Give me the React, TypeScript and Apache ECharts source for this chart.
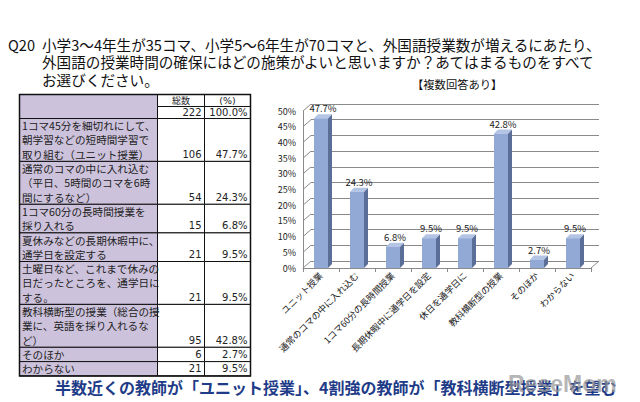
import React, { useEffect, useRef } from 'react';
import * as echarts from 'echarts';

const categories = [
  'ユニット授業',
  '通常のコマの中に入れ込む',
  '1コマ60分の長時間授業',
  '長期休暇中に通学日を設定',
  '休日を通学日に',
  '教科横断型の授業',
  'そのほか',
  'わからない',
];
const percentValues = [47.7, 24.3, 6.8, 9.5, 9.5, 42.8, 2.7, 9.5];
const yTicks = [0, 5, 10, 15, 20, 25, 30, 35, 40, 45, 50];

const tableRowLabels = [
  ['1コマ45分を細切れにして、', '朝学習などの短時間学習で', '取り組む（ユニット授業）'],
  ['通常のコマの中に入れ込む', '（平日、5時間のコマを6時', '間にするなど）'],
  ['1コマ60分の長時間授業を', '採り入れる'],
  ['夏休みなどの長期休暇中に、', '通学日を設定する'],
  ['土曜日など、これまで休みの', '日だったところを、通学日に', 'する。'],
  ['教科横断型の授業（総合の授', '業に、英語を採り入れるな', 'ど）'],
  ['そのほか'],
  ['わからない'],
];
const tableCounts = [106, 54, 15, 21, 21, 95, 6, 21];
const tableHeaders = ['総数', '(%)'];
const totalCount = 222;
const totalPercent = '100.0%';

const titleCode = 'Q20';
const titleLines = [
  '小学3～4年生が35コマ、小学5～6年生が70コマと、外国語授業数が増えるにあたり、',
  '外国語の授業時間の確保にはどの施策がよいと思いますか？あてはまるものをすべて',
  'お選びください。',
];
const noteText = '【複数回答あり】';
const captionText = '半数近くの教師が「ユニット授業」、4割強の教師が「教科横断型授業」を望む';

const JP = '"Noto Sans CJK JP", "Noto Sans", sans-serif';
const NUM = '"DejaVu Sans", sans-serif';

function buildTable() {
  const cols = [19.5, 157.5, 204.5, 250.5];
  const top = 94.5;
  const hh = 12;
  const lh = 14.3;
  const purple = '#cdc2dc';
  const els: any[] = [];
  const txt = (x: number, y: number, text: string, align: string, font: string, size: number) => ({
    type: 'text',
    x,
    y,
    style: {
      text,
      fontFamily: font,
      fontSize: size,
      lineHeight: 12,
      fill: '#222',
      align,
      verticalAlign: 'middle',
    },
  });
  const cell = (x1: number, x2: number, y1: number, y2: number, fill: string) => ({
    type: 'rect',
    shape: { x: x1, y: y1, width: x2 - x1, height: y2 - y1 },
    style: { fill, stroke: '#111', lineWidth: 1 },
  });
  els.push(cell(cols[0], cols[1], top, top + 2 * hh, purple));
  els.push(cell(cols[1], cols[2], top, top + hh, '#fff'));
  els.push(cell(cols[2], cols[3], top, top + hh, '#fff'));
  els.push(cell(cols[1], cols[2], top + hh, top + 2 * hh, '#fff'));
  els.push(cell(cols[2], cols[3], top + hh, top + 2 * hh, '#fff'));
  els.push(txt((cols[1] + cols[2]) / 2, top + hh / 2, tableHeaders[0], 'center', JP, 9));
  els.push(txt((cols[2] + cols[3]) / 2, top + hh / 2, tableHeaders[1], 'center', NUM, 9.5));
  els.push(txt(cols[2] - 3, top + hh * 1.5, String(totalCount), 'right', NUM, 10));
  els.push(txt(cols[3] - 3, top + hh * 1.5, totalPercent, 'right', NUM, 10));
  let y = top + 2 * hh;
  tableRowLabels.forEach((lines, i) => {
    const h = lines.length * lh;
    els.push(cell(cols[0], cols[1], y, y + h, purple));
    els.push(cell(cols[1], cols[2], y, y + h, '#fff'));
    els.push(cell(cols[2], cols[3], y, y + h, '#fff'));
    lines.forEach((l, k) => {
      els.push(txt(cols[0] + 2.5, y + k * lh + lh / 2, l, 'left', JP, 10.6));
    });
    els.push(txt(cols[2] - 3, y + h - lh / 2, String(tableCounts[i]), 'right', NUM, 10));
    els.push(txt(cols[3] - 3, y + h - lh / 2, percentValues[i].toFixed(1) + '%', 'right', NUM, 10));
    y += h;
  });
  els.push({
    type: 'rect',
    shape: { x: cols[0], y: top, width: cols[3] - cols[0], height: y - top },
    style: { fill: 'none', stroke: '#111', lineWidth: 1.5 },
  });
  return els;
}

export default function App() {
  const ref = useRef<HTMLDivElement>(null);
  useEffect(() => {
    document.body.style.margin = '0';
    const chart = echarts.init(ref.current!, null, { renderer: 'svg' });
    const gridStroke = '#8a8a8a';
    const option: any = {
      animation: false,
      backgroundColor: '#ffffff',
      grid: [
        { left: 303, top: 111, width: 288, height: 157 },
        { left: 311, top: 104, width: 288, height: 157 },
      ],
      xAxis: [
        {
          type: 'category',
          gridIndex: 0,
          data: categories,
          axisLine: { show: true, lineStyle: { color: gridStroke } },
          axisTick: { show: true, interval: 0, length: 4, lineStyle: { color: gridStroke } },
          axisLabel: {
            interval: 0,
            rotate: 45,
            fontSize: 9,
            fontFamily: JP,
            color: '#222',
            margin: 6,
          },
        },
        { type: 'category', gridIndex: 1, data: categories, show: false },
      ],
      yAxis: [
        {
          type: 'value',
          gridIndex: 0,
          min: 0,
          max: 50,
          interval: 5,
          axisLine: { show: true, lineStyle: { color: gridStroke } },
          axisTick: { show: false },
          splitLine: { show: false },
          axisLabel: { formatter: '{value}%', fontSize: 9, fontFamily: JP, color: '#222', margin: 7 },
        },
        {
          type: 'value',
          gridIndex: 1,
          min: 0,
          max: 50,
          interval: 5,
          axisLine: { show: false },
          axisTick: { show: false },
          axisLabel: { show: false },
          splitLine: { show: true, lineStyle: { color: gridStroke, width: 1 } },
        },
      ],
      series: [
        {
          type: 'custom',
          xAxisIndex: 0,
          yAxisIndex: 0,
          silent: true,
          data: yTicks.map((v) => [0, v]),
          renderItem: (params: any, api: any) => {
            const v = api.value(1);
            const p = api.coord([0, v]);
            const cs = params.coordSys;
            const children: any[] = [
              {
                type: 'line',
                shape: { x1: cs.x, y1: p[1], x2: cs.x + 8, y2: p[1] - 7 },
                style: { stroke: gridStroke, lineWidth: 1 },
              },
            ];
            if (v === 0) {
              children.push({
                type: 'line',
                shape: { x1: cs.x + cs.width, y1: p[1], x2: cs.x + cs.width + 8, y2: p[1] - 7 },
                style: { stroke: gridStroke, lineWidth: 1 },
              });
            }
            return { type: 'group', children };
          },
        },
        {
          type: 'bar',
          xAxisIndex: 0,
          yAxisIndex: 0,
          data: percentValues,
          barWidth: 14,
          itemStyle: { color: '#92a9d6' },
          label: {
            show: true,
            position: 'top',
            distance: 5,
            offset: [2, 0],
            formatter: (p: any) => p.value.toFixed(1) + '%',
            fontSize: 9.5,
            fontFamily: JP,
            color: '#222',
          },
        },
        {
          type: 'custom',
          xAxisIndex: 0,
          yAxisIndex: 0,
          silent: true,
          data: percentValues.map((v, i) => [i, v]),
          renderItem: (params: any, api: any) => {
            const i = api.value(0);
            const v = api.value(1);
            const t = api.coord([i, v]);
            const b = api.coord([i, 0]);
            const half = 7;
            const dx = 4;
            const dy = 4;
            return {
              type: 'group',
              children: [
                {
                  type: 'polygon',
                  shape: {
                    points: [
                      [t[0] + half, t[1]],
                      [t[0] + half + dx, t[1] - dy],
                      [t[0] + half + dx, b[1] - dy],
                      [t[0] + half, b[1]],
                    ],
                  },
                  style: { fill: '#5b6e98' },
                },
                {
                  type: 'polygon',
                  shape: {
                    points: [
                      [t[0] - half, t[1]],
                      [t[0] + half, t[1]],
                      [t[0] + half + dx, t[1] - dy],
                      [t[0] - half + dx, t[1] - dy],
                    ],
                  },
                  style: { fill: '#b3c4e4' },
                },
              ],
            };
          },
        },
      ],
      graphic: [
        {
          type: 'text',
          x: 8,
          y: 44,
          style: {
            text: titleCode,
            fontFamily: JP,
            fontSize: 14.6,
            lineHeight: 16,
            fill: '#111',
            verticalAlign: 'middle',
          },
        },
        ...titleLines.map((t, k) => ({
          type: 'text',
          x: 42,
          y: 44 + k * 17.5,
          style: {
            text: t,
            fontFamily: JP,
            fontSize: 14.6,
            lineHeight: 16,
            fill: '#111',
            verticalAlign: 'middle',
          },
        })),
        {
          type: 'text',
          x: 412,
          y: 84,
          style: {
            text: noteText,
            fontFamily: JP,
            fontSize: 11.3,
            lineHeight: 12,
            fill: '#111',
            verticalAlign: 'middle',
          },
        },
        ...buildTable(),
        {
          type: 'text',
          x: 55,
          y: 387,
          style: {
            text: captionText,
            fontFamily: JP,
            fontSize: 16,
            lineHeight: 18,
            fontWeight: 'bold',
            fill: '#1f3c88',
            verticalAlign: 'middle',
          },
        },
        {
          type: 'text',
          x: 508,
          y: 384,
          style: {
            text: 'ReseMom',
            fontFamily: '"Liberation Sans", sans-serif',
            fontSize: 23,
            fontWeight: 'bold',
            fill: 'rgba(150,150,150,0.7)',
            verticalAlign: 'middle',
          },
        },
      ],
    };
    chart.setOption(option);
    return () => chart.dispose();
  }, []);
  return <div ref={ref} style={{ width: 640, height: 402 }} />;
}
